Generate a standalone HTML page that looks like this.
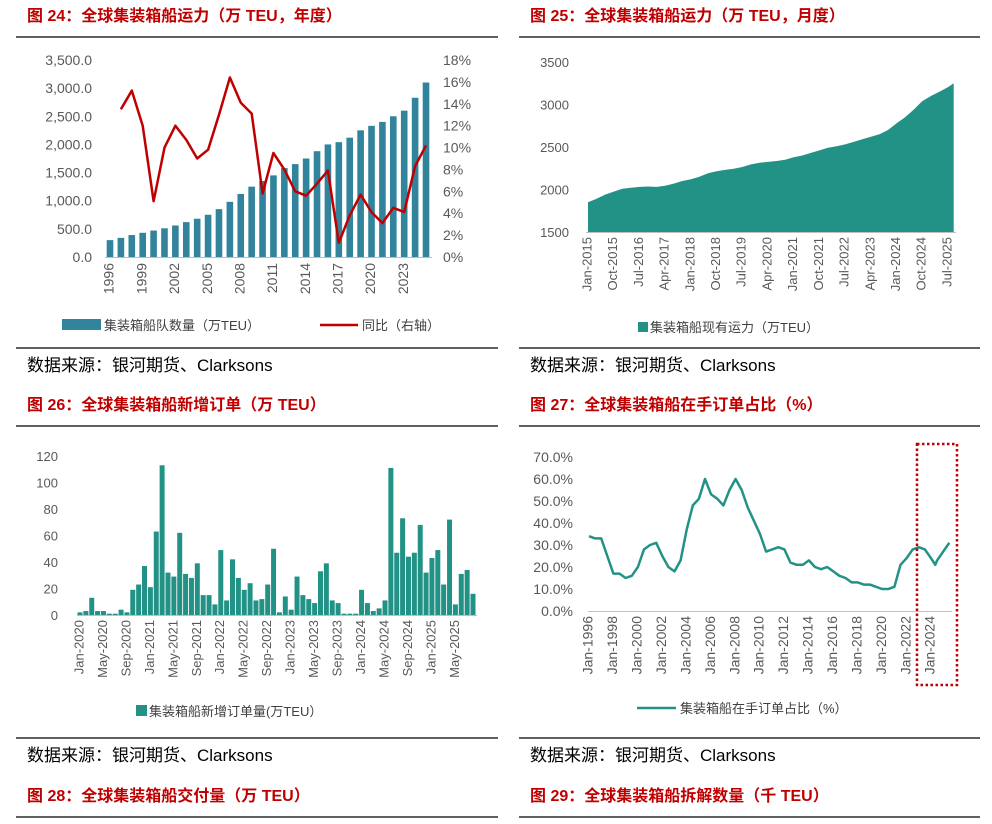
<!DOCTYPE html>
<html><head><meta charset="utf-8">
<style>
html,body{margin:0;padding:0;background:#fff;}
svg{display:block;font-family:"Liberation Sans","Noto Sans CJK SC",sans-serif;}
.t{fill:#c00000;font-weight:bold;font-size:16px;}
.s{fill:#000;font-size:17px;}
.ax{fill:#595959;font-size:13px;}
.ax14{fill:#595959;font-size:14px;}
.lg{fill:#404040;font-size:13px;}
</style></head>
<body>
<svg id="root" width="992" height="824" viewBox="0 0 992 824">
  <text class="t" x="27" y="21">图 24：全球集装箱船运力（万 TEU，年度）</text>
  <text class="t" x="530" y="21">图 25：全球集装箱船运力（万 TEU，月度）</text>
  <line x1="16" y1="37" x2="498" y2="37" stroke="#000" stroke-width="1.2"/>
  <line x1="519" y1="37" x2="980" y2="37" stroke="#000" stroke-width="1.2"/>
  <line x1="16" y1="348" x2="498" y2="348" stroke="#000" stroke-width="1.2"/>
  <line x1="519" y1="348" x2="980" y2="348" stroke="#000" stroke-width="1.2"/>
  <text class="s" x="27" y="371">数据来源：银河期货、Clarksons</text>
  <text class="s" x="530" y="371">数据来源：银河期货、Clarksons</text>
  <text class="t" x="27" y="410">图 26：全球集装箱船新增订单（万 TEU）</text>
  <text class="t" x="530" y="410">图 27：全球集装箱船在手订单占比（%）</text>
  <line x1="16" y1="426" x2="498" y2="426" stroke="#000" stroke-width="1.2"/>
  <line x1="519" y1="426" x2="980" y2="426" stroke="#000" stroke-width="1.2"/>
  <line x1="16" y1="738" x2="498" y2="738" stroke="#000" stroke-width="1.2"/>
  <line x1="519" y1="738" x2="980" y2="738" stroke="#000" stroke-width="1.2"/>
  <text class="s" x="27" y="761">数据来源：银河期货、Clarksons</text>
  <text class="s" x="530" y="761">数据来源：银河期货、Clarksons</text>
  <text class="t" x="27" y="801">图 28：全球集装箱船交付量（万 TEU）</text>
  <text class="t" x="530" y="801">图 29：全球集装箱船拆解数量（千 TEU）</text>
  <line x1="16" y1="817" x2="498" y2="817" stroke="#000" stroke-width="1.2"/>
  <line x1="519" y1="817" x2="980" y2="817" stroke="#000" stroke-width="1.2"/>

  <g id="c24"></g>
  <g id="c25"></g>
  <g id="c26"></g>
  <g id="c27"></g>
</svg>
<script>
const years24 = [1996,1997,1998,1999,2000,2001,2002,2003,2004,2005,2006,2007,2008,2009,2010,2011,2012,2013,2014,2015,2016,2017,2018,2019,2020,2021,2022,2023,2024,2025];
const fleet24 = [300,340,390,430,470,510,560,620,680,750,850,980,1120,1250,1350,1450,1580,1650,1750,1880,2000,2040,2120,2250,2330,2400,2500,2600,2830,3100];
const yoy24 = [null,13.5,15.2,12,5.1,10,12,10.7,9,9.8,13,16.4,14.1,13.1,5.8,9.5,8,6,5.6,6.7,7.9,1.3,3.8,5.7,4.1,3.1,4.5,4.1,8.3,10.2];
const leftTicks24 = ["0.0","500.0","1,000.0","1,500.0","2,000.0","2,500.0","3,000.0","3,500.0"];
const rightTicks24 = ["0%","2%","4%","6%","8%","10%","12%","14%","16%","18%"];

const months25 = [0,3,6,9,12,15,18,21,24,27,30,33,36,39,42,45,48,51,54,57,60,63,66,69,72,75,78,81,84,87,90,93,96,99,102,105,108,111,114,117,120,123,126,128];
const cap25 = [1850,1890,1940,1975,2010,2020,2030,2035,2030,2045,2070,2100,2120,2150,2190,2215,2230,2245,2265,2295,2315,2325,2335,2350,2380,2400,2430,2460,2490,2510,2530,2560,2590,2620,2650,2700,2780,2850,2940,3040,3100,3150,3205,3250];
const ticks25 = ["Jan-2015","Oct-2015","Jul-2016","Apr-2017","Jan-2018","Oct-2018","Jul-2019","Apr-2020","Jan-2021","Oct-2021","Jul-2022","Apr-2023","Jan-2024","Oct-2024","Jul-2025"];
const yTicks25 = [1500,2000,2500,3000,3500];

const orders26 = [2,3,13,3,3,1,1,4,2,19,23,37,21,63,113,32,29,62,31,28,39,15,15,8,49,11,42,28,19,24,11,12,23,50,2,14,4,29,15,12,9,33,39,11,9,1,1,1,19,9,3,5,11,111,47,73,44,47,68,32,43,49,23,72,8,31,34,16];
const ticks26 = ["Jan-2020","May-2020","Sep-2020","Jan-2021","May-2021","Sep-2021","Jan-2022","May-2022","Sep-2022","Jan-2023","May-2023","Sep-2023","Jan-2024","May-2024","Sep-2024","Jan-2025","May-2025"];
const yTicks26 = [0,20,40,60,80,100,120];

const time27 = [1996,1996.5,1997,1997.5,1998,1998.5,1999,1999.5,2000,2000.5,2001,2001.5,2002,2002.5,2003,2003.5,2004,2004.5,2005,2005.5,2006,2006.5,2007,2007.5,2008,2008.5,2009,2009.5,2010,2010.5,2011,2011.5,2012,2012.5,2013,2013.5,2014,2014.5,2015,2015.5,2016,2016.5,2017,2017.5,2018,2018.5,2019,2019.5,2020,2020.5,2021,2021.5,2022,2022.5,2023,2023.5,2024,2024.35,2024.5,2025,2025.5];
const ratio27 = [34,33,33,25,17,17,15,16,20,28,30,31,25,20,18,23,37,48,51,60,53,51,48,55,60,55,47,41,35,27,28,29,28,22,21,21,23,20,19,20,18,16,15,13,13,12,12,11,10,10,11,21,24,28,29,28,24,21,23,27,31];
const ticks27 = [1996,1998,2000,2002,2004,2006,2008,2010,2012,2014,2016,2018,2020,2022,2024];
const yTicks27 = [0,10,20,30,40,50,60,70];

const NS = "http://www.w3.org/2000/svg";
function mk(parent, tag, attrs, txt){
  const e = document.createElementNS(NS, tag);
  for (const k in attrs) e.setAttribute(k, attrs[k]);
  if (txt !== undefined) e.textContent = txt;
  parent.appendChild(e);
  return e;
}
function vlabel(g, x, y, s, cls){
  return mk(g, "text", {x:x, y:y, class:cls||"ax", "text-anchor":"end", transform:`rotate(-90 ${x} ${y})`, "dominant-baseline":"middle"}, s);
}

(function(){
  const g = document.getElementById("c24");
  const x0 = 110, dx = (426-110)/(years24.length-1);
  const xS = i => x0 + i*dx;
  const yL = v => 257 - v/3500*(257-60);
  const yR = v => 257 - v/18*(257-60);
  leftTicks24.forEach((s,i)=>{
    const t = mk(g,"text",{x:92,y:yL(i*500)+5,class:"ax14","text-anchor":"end"},s);
    
    
  });
  rightTicks24.forEach((s,i)=>{
    const t = mk(g,"text",{x:443,y:yR(i*2)+5,class:"ax14","text-anchor":"start"},s);
    
    
  });
  fleet24.forEach((v,i)=>{
    const r = mk(g,"rect",{x:xS(i)-3.3,y:yL(v),width:6.6,height:257-yL(v),fill:"#31849b"});
    
    
  });
  mk(g,"line",{x1:105,y1:257.5,x2:432,y2:257.5,stroke:"#bfbfbf","stroke-width":1});
  let d = "";
  yoy24.forEach((v,i)=>{ if(v===null) return; d += (d?"L":"M")+xS(i).toFixed(1)+","+yR(v).toFixed(1); });
  const p = mk(g,"path",{d:d,fill:"none",stroke:"#c00000","stroke-width":2.5,"stroke-linejoin":"round"});
  
  
  years24.forEach((y,i)=>{
    if (i%3!==0) return;
    const t = vlabel(g, xS(i), 263, String(y), "ax14");
    
    
  });
  const sw = mk(g,"rect",{x:62,y:319,width:39,height:11,fill:"#31849b"});
  
  
  const l1 = mk(g,"text",{x:104,y:330,class:"lg","font-size":"14"},"集装箱船队数量（万TEU）");
  
  
  const ll = mk(g,"line",{x1:320,y1:325,x2:358,y2:325,stroke:"#c00000","stroke-width":2.5});
  
  
  const l2 = mk(g,"text",{x:362,y:330,class:"lg","font-size":"14"},"同比（右轴）");
  
  
})();

(function(){
  const g = document.getElementById("c25");
  const xS = m => 588 + m*(948-588)/126;
  const yS = v => 232 - (v-1500)/2000*(232-62);
  yTicks25.forEach(v=>{
    const t = mk(g,"text",{x:569,y:yS(v)+5,class:"ax","text-anchor":"end"},String(v));
    
    
  });
  let d = "M"+xS(months25[0])+","+yS(1500);
  months25.forEach((m,i)=>{ d += "L"+xS(m).toFixed(1)+","+yS(cap25[i]).toFixed(1); });
  d += "L"+xS(months25[months25.length-1])+","+yS(1500)+"Z";
  const a = mk(g,"path",{d:d,fill:"#239286"});
  
  
  mk(g,"line",{x1:586,y1:232.5,x2:956,y2:232.5,stroke:"#bfbfbf","stroke-width":1});
  ticks25.forEach((s,i)=>{
    const t = vlabel(g, xS(i*9), 237, s);
    
    
  });
  const sw = mk(g,"rect",{x:638,y:322,width:10,height:10,fill:"#239286"});
  
  
  const l = mk(g,"text",{x:650,y:332,class:"lg","font-size":"12"},"集装箱船现有运力（万TEU）");
  
  
})();

(function(){
  const g = document.getElementById("c26");
  const dx = (473-80)/(orders26.length-1);
  const xS = i => 80 + i*dx;
  const yS = v => 615 - v/120*(615-456);
  yTicks26.forEach(v=>{
    const t = mk(g,"text",{x:58,y:yS(v)+5,class:"ax","text-anchor":"end"},String(v));
    
    
  });
  orders26.forEach((v,i)=>{
    const r = mk(g,"rect",{x:xS(i)-2.5,y:yS(v),width:5,height:615-yS(v),fill:"#239286"});
    
    
  });
  mk(g,"line",{x1:77,y1:615.5,x2:477,y2:615.5,stroke:"#bfbfbf","stroke-width":1});
  ticks26.forEach((s,i)=>{
    const t = vlabel(g, xS(i*4), 620, s);
    
    
  });
  const sw = mk(g,"rect",{x:136,y:705,width:11,height:11,fill:"#239286"});
  
  
  const l = mk(g,"text",{x:149,y:716,class:"lg"},"集装箱船新增订单量(万TEU）");
  
  
})();

(function(){
  const g = document.getElementById("c27");
  const xS = t => 589 + (t-1996)*(931-589)/28;
  const yS = v => 611 - v/70*(611-457);
  yTicks27.forEach(v=>{
    const t = mk(g,"text",{x:573,y:yS(v)+5,class:"ax14","text-anchor":"end"},v.toFixed(1)+"%");
    
    
  });
  mk(g,"line",{x1:588,y1:611.5,x2:952,y2:611.5,stroke:"#bfbfbf","stroke-width":1});
  let d="";
  time27.forEach((t,i)=>{ d += (i?"L":"M")+xS(t).toFixed(1)+","+yS(ratio27[i]).toFixed(1); });
  const p = mk(g,"path",{d:d,fill:"none",stroke:"#239286","stroke-width":2.5,"stroke-linejoin":"round"});
  
  
  ticks27.forEach(y=>{
    const t = vlabel(g, xS(y), 616, "Jan-"+y, "ax14");
    
    
  });
  const box = mk(g,"rect",{x:917,y:444,width:40,height:241,fill:"none",stroke:"#c00000","stroke-width":2.5,"stroke-dasharray":"2.5 2.5"});
  
  
  const ll = mk(g,"line",{x1:637,y1:708,x2:676,y2:708,stroke:"#239286","stroke-width":2.5});
  
  
  const l = mk(g,"text",{x:680,y:713,class:"lg","font-size":"14","fill":"#595959"},"集装箱船在手订单占比（%）");
  
  
})();
</script>
</body></html>
